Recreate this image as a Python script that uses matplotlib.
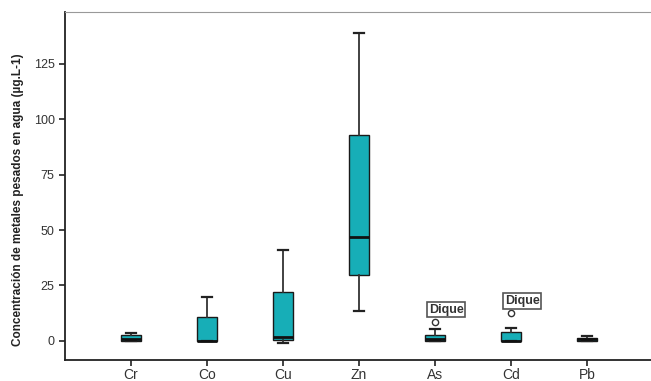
import matplotlib
matplotlib.use("Agg")
import matplotlib.pyplot as plt
from matplotlib import font_manager

metals = ["Cr", "Co", "Cu", "Zn", "As", "Cd", "Pb"]
whislo = [0.0, 0.0, -0.8, 13.5, 0.0, 0.0, 0.0]
q1 = [0.0, 0.0, 0.5, 29.5, 0.0, 0.0, 0.0]
med = [1.0, 0.0, 1.8, 47.0, 1.0, 0.0, 0.8]
q3 = [2.5, 11.0, 22.0, 93.0, 2.5, 4.0, 1.5]
whishi = [3.5, 20.0, 41.0, 139.0, 5.5, 6.0, 2.0]
outliers = [[], [], [], [], [8.5], [12.5], []]
outlier_labels = ["", "", "", "", "Dique", "Dique", ""]
yticks = [0, 25, 50, 75, 100, 125]

names = {f.name for f in font_manager.fontManager.ttflist}
fam = "Liberation Sans Narrow" if "Liberation Sans Narrow" in names else "Liberation Sans"
plt.rcParams["font.family"] = [fam, "DejaVu Sans"]

fig = plt.figure(figsize=(6.51, 3.81), dpi=100)
ax = fig.add_axes([65 / 651, 21 / 381, 1 - 65 / 651, (360 - 12) / 381])

stats = []
for i, m in enumerate(metals):
    stats.append(dict(label=m, whislo=whislo[i], q1=q1[i], med=med[i], q3=q3[i],
                      whishi=whishi[i], fliers=outliers[i]))

ax.bxp(stats, positions=range(len(metals)), widths=0.27, patch_artist=True,
       boxprops=dict(facecolor="#17AEB7", edgecolor="#1a1a1a", linewidth=1.0),
       medianprops=dict(color="#111111", linewidth=2.0),
       whiskerprops=dict(color="#333333", linewidth=1.3),
       capprops=dict(color="#222222", linewidth=1.6),
       capwidths=0.14,
       flierprops=dict(marker="o", markersize=4.5, markerfacecolor="white",
                       markeredgecolor="#333333", markeredgewidth=1.0))

for i, lab in enumerate(outlier_labels):
    if lab:
        for v in outliers[i]:
            ax.annotate(lab, xy=(i, v), xytext=(8, 9), textcoords="offset points",
                        ha="center", va="center", fontsize=9, fontweight="bold",
                        color="#333333",
                        bbox=dict(boxstyle="square,pad=0.15", facecolor="white",
                                  edgecolor="#555555", linewidth=1.2))

ax.set_xlim(-0.868, 6.84)
ax.set_ylim(-8.6, 148.3)
ax.set_yticks(yticks)
ax.set_xticks(range(len(metals)))
ax.set_xticklabels(metals)
ax.tick_params(axis="both", direction="out", length=4, width=1.2, colors="#222222",
               labelsize=9, labelcolor="#333333")
ax.tick_params(axis="x", pad=2, labelsize=10)
ax.spines["right"].set_visible(False)
ax.spines["top"].set_color("#999999")
ax.spines["left"].set_linewidth(1.3)
ax.spines["bottom"].set_linewidth(1.3)
ax.spines["left"].set_color("#222222")
ax.spines["bottom"].set_color("#222222")

fig.text(18 / 651, (381 - 200) / 381, "Concentración de metales pesados en agua (µg.L-1)",
         rotation=90, ha="center", va="center", fontsize=8.5, fontweight="bold",
         color="#222222")

fig.savefig("out.png", dpi=100)
